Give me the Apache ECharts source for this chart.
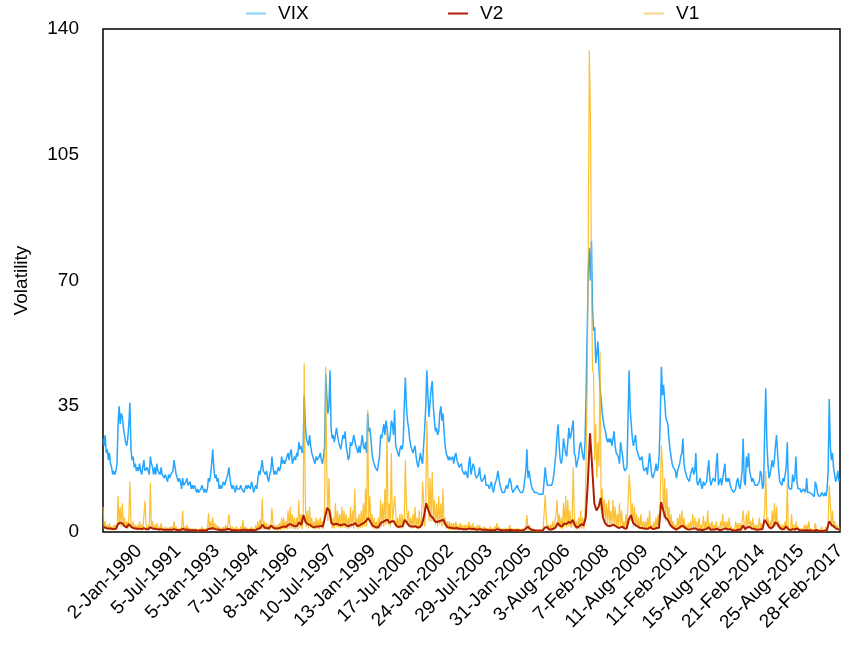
<!DOCTYPE html>
<html>
<head>
<meta charset="utf-8">
<script src="https://cdn.jsdelivr.net/npm/echarts@6/dist/echarts.min.js"></script>
<style>
  html, body { margin: 0; padding: 0; background: #fff; }
  #chart { width: 850px; height: 645px; }
</style>
</head>
<body>
<div id="chart"></div>
<script>
// Half-monthly readings from January 1990 (VIX index and V1), monthly readings for V2.
const firstYear = 1990;

const tickLabels = [
  '2-Jan-1990', '5-Jul-1991', '5-Jan-1993', '7-Jul-1994', '8-Jan-1996', '10-Jul-1997',
  '13-Jan-1999', '17-Jul-2000', '24-Jan-2002', '29-Jul-2003', '31-Jan-2005', '3-Aug-2006',
  '7-Feb-2008', '11-Aug-2009', '11-Feb-2011', '15-Aug-2012', '21-Feb-2014', '25-Aug-2015',
  '28-Feb-2017'
];

// VIX, two readings per month, one row per year
const vixByYear = [
  [26,24,27,22,23,20,22,19,18,16,17,16,17,19,30,35,30,33,32,29,27,25,24,26],
  [30,36,23,20,21,18,19,17,18,17,19,17,16,18,20,17,17,18,18,16,21,19,18,16],
  [18,16,19,17,17,16,18,16,16,15,16,15,14,16,15,16,16,17,20,18,16,15,14,15],
  [14,12,15,13,13,14,15,13,13,14,12,13,12,13,12,11,12,11,11,12,13,12,11,12],
  [11,12,15,14,16,19,23,18,15,16,14,15,12,13,12,13,14,13,14,15,16,18,15,13],
  [12,13,12,11,13,12,12,12,13,12,12,11,12,13,12,13,13,12,14,13,11,12,13,12],
  [15,17,16,18,20,17,17,16,17,15,14,16,17,21,18,16,17,16,17,18,17,18,21,19],
  [20,19,20,21,22,20,22,23,19,20,21,20,22,21,25,23,24,22,23,38,30,26,26,24],
  [27,24,22,21,20,19,21,20,20,21,22,20,19,21,24,44,38,33,35,45,29,26,27,25],
  [27,29,27,25,24,23,25,27,26,28,24,22,20,21,25,24,25,27,27,24,23,22,24,22],
  [22,27,24,23,25,22,33,28,29,26,22,20,19,18,18,17,19,21,27,26,28,30,27,31],
  [29,26,25,27,31,30,27,34,24,23,22,21,23,24,23,25,35,43,35,31,29,26,24,23],
  [22,23,24,21,19,18,20,22,20,19,24,29,35,45,38,32,36,40,42,35,31,28,29,27],
  [28,33,35,31,33,28,24,22,21,20,21,20,20,21,19,21,22,20,19,18,18,19,17,17],
  [16,17,16,15,19,21,16,16,19,18,16,15,15,16,18,15,14,14,15,16,13,13,13,12],
  [13,14,12,11,13,14,15,17,15,13,12,11,11,11,12,13,12,12,15,14,12,11,11,12],
  [12,13,12,12,11,11,11,12,12,17,23,15,17,15,13,12,12,11,11,11,10.5,10.5,11,10.5],
  [11,10.5,10.5,18,15,13,13,13,13,13,14,16,16,22,27,30,24,20,19,21,26,24,22,21],
  [25,29,26,27,27,31,22,21,18,18,21,24,25,23,21,20,25,38,55,72,79,70,81,62],
  [56,57,47,50,53,45,40,37,33,31,29,28,26,25,26,25,26,24,26,28,24,22,22,21],
  [19,25,25,21,18,17,17,18,32,45,34,30,26,24,24,27,23,22,21,20,20,21,18,17],
  [17,18,16,19,22,19,16,15,16,17,19,17,18,22,33,46,38,41,37,32,32,30,26,23],
  [21,19,18,18,17,15,17,18,19,21,22,26,19,17,16,15,15,14,16,17,18,16,17,22],
  [14,13,13,15,13,12,14,13,13,14,17,20,15,13,14,15,15,14,19,22,13,12.5,15,13],
  [13,17,19,14,15,14,15,13,12,11.5,11,11,12,14,15,13,12,14,17,26,14,13,21,18],
  [22,17,17,14,15,14,13,13,13,12.5,14,17,16,12,13,28,40,25,19,15,16,16,20,18],
  [20,24,27,22,17,14,14,13,15,14,16,18,25,13,12,12,12,16,14,15,21,14,12,12],
  [12,11,11,12,12,11,15,11,10.5,11,10.5,10.5,10,9.8,14,13,11,10,10,10,11,11,10,11],
  [10,12,17,37,24,20,22,18,16,14,15,17,14,15]
];

// V1, two readings per month, one row per year
const v1ByYear = [
  [7,1,3,0.8,2,0.6,2.5,0.7,1.5,0.5,2,0.5,2,0.6,10,2,7,1.5,8,1.5,4,1,3,0.8],
  [4,14,2,1,3,0.8,2,0.6,2,0.5,3,0.6,2,0.5,1,8.7,2,0.5,2,0.6,13.7,1,3,0.6],
  [2,0.5,2.5,0.5,1.5,0.4,2.5,0.5,1.2,0.4,1.5,0.4,1.2,0.3,1.5,0.4,1.5,0.4,3,0.6,1.5,0.4,1,0.3],
  [1.2,0.3,5.9,0.5,1.5,0.4,2,0.4,1.2,0.3,1,0.3,1,0.3,1,0.3,0.8,0.3,1,0.3,1.5,0.3,1,0.3],
  [1,0.3,5.2,0.6,3,0.6,4,0.7,2.5,0.5,2,0.5,1.5,0.4,1.2,0.4,1.5,0.4,2,0.4,2,4.9,2,0.4],
  [1.5,0.4,1.2,0.3,1.5,0.3,1,0.3,1.5,0.3,3.4,0.3,1.5,0.4,1.2,0.3,1,0.3,1.5,0.4,1,0.3,2,0.4],
  [3,0.5,3.5,0.6,9.4,0.8,3,0.6,2.5,0.5,2,0.5,2,6.6,2.5,0.5,2,0.5,2,0.5,2.5,0.5,4,0.7],
  [4,0.8,3,0.7,6,0.9,7,1,5,0.8,4,0.7,4,0.7,8.9,1.2,5,0.8,3,47,9,1.5,6,1],
  [7,1.5,4,1,3,0.8,4,0.8,3.5,0.8,4,0.9,3,0.8,7,46,17.8,3,15,6,5,1,4,1],
  [8,1.5,6,1.2,5,1,7,1.2,6,1.1,5,1,4,0.9,7,1.2,6,1,12,1.5,4,0.9,5,1],
  [6,1.2,8,1.5,12,1.5,34,3,10,2,5,1,4,0.8,3,0.7,4,0.8,9,1.5,8,1.5,12,2],
  [28,2,8,1.5,22,2.5,6,10,6,1.2,4,1,5,1,5,1,3,20,8,2,6,1.2,4,1],
  [5,1,7,1.2,4,1,6,1,3,14,9,1.5,8,31,16,3,15,3,16.7,3,9,2,8,1.5],
  [10,2,8,1.5,12,2,4,1,3,0.7,3,0.6,2.5,0.6,2.5,0.5,2.9,0.6,2,0.5,2.5,0.5,2,0.4],
  [2,0.4,2,0.4,2.9,0.5,2,0.4,2.5,0.5,1.5,0.4,2,0.4,2,0.4,1.2,0.3,1.5,0.4,1.2,0.3,1,0.3],
  [1.5,0.3,1,0.3,1.5,0.4,2.5,0.5,1.5,0.4,1,0.3,1,0.3,1.2,0.3,1,0.3,2,0.4,1,0.3,1,0.3],
  [1,0.3,1,0.3,0.8,0.3,1,0.3,1,2,4.7,0.6,2,0.5,1,0.3,1,0.3,0.8,0.3,0.8,0.3,0.8,0.3],
  [0.8,0.3,0.8,10.3,4,0.8,2,0.5,2,0.5,3,0.6,1,5,8.9,1.5,5,1,4,0.8,8,1.5,10,1.2],
  [9,1.5,6,1.2,2,18,5,1,3,0.7,4,0.8,6,1,4,0.8,4,20,40,78,134,117,70,45],
  [44,20,30,15,25,18,50,6,12,4,9,3,8,2,9,2,6,2,9,2,7,1.5,5,1.2],
  [8,1.5,6,1.2,3,0.8,5,1,8,16,12,3,8,1.5,7,1.5,5,1,4,0.8,5,1,3,0.7],
  [3,0.7,4,0.8,6,1,2,0.6,3,0.7,4,0.8,5,1,10,24,18,4,15,3,12,3,7,1.5],
  [5,1,3,0.7,2,0.5,4,0.8,5,1,6,1.2,4,0.8,2,0.5,2.5,0.5,3,0.6,5,1,4,0.8],
  [3,0.6,4,0.7,2,0.5,4.5,0.7,3,0.6,6,1,2.5,0.5,3,0.6,2,0.5,3,0.6,1.5,0.4,3,0.6],
  [5,0.8,3,0.6,3,0.6,4,0.7,1.5,0.4,1,0.3,3,0.6,2.5,0.5,2.5,0.5,3,6,1.5,0.4,5,1],
  [6,1.2,3,0.7,4,0.8,2,0.5,2,0.5,4,0.8,2.5,0.6,3,6,17,2,4,1,3,0.7,6,1.2],
  [8,1.5,7,1.5,3,0.7,2,0.5,2,0.5,3,0.7,13.7,0.5,1,0.3,5,0.6,2,0.5,3,0.7,1.5,0.4],
  [1,0.3,1,0.3,2,0.4,2,0.4,3,0.3,1,0.3,0.8,0.2,2.5,0.5,1,0.3,0.8,0.2,1.5,0.3,0.8,0.2],
  [1.5,0.4,3,13,8,1.5,6,1.2,3,0.7,2,0.5,1.5,0.4]
];

// V2, one reading per month, one row per year
const v2ByYear = [
  [1.5,1.2,1,1,0.9,0.8,0.9,2.2,2.6,2.4,1.6,1.3],
  [2.2,1.5,1.1,1,0.9,0.9,0.8,1.1,0.8,0.8,1.3,1],
  [0.9,0.8,0.7,0.8,0.6,0.6,0.6,0.6,0.6,0.8,0.6,0.5],
  [0.5,0.9,0.6,0.7,0.5,0.5,0.5,0.5,0.4,0.4,0.5,0.4],
  [0.4,0.9,0.9,1.1,0.8,0.7,0.6,0.5,0.6,0.6,0.9,0.7],
  [0.5,0.5,0.5,0.4,0.5,0.6,0.6,0.5,0.5,0.6,0.4,0.6],
  [0.9,1.1,2,1.2,1.1,1,1.8,1.2,1,1,1.1,1.4],
  [1.5,1.4,2,2.2,1.8,1.6,1.7,2.7,2,4.7,2.8,2.2],
  [2,1.5,1.3,1.5,1.5,1.7,1.5,4,6.7,6,2.5,2],
  [2.3,2.2,1.8,2,2.2,1.8,1.6,2,2,2.5,1.7,1.8],
  [2.2,2.5,3,3.9,3,1.8,1.5,1.2,1.5,2.6,2.8,3.2],
  [3.4,2.5,3,3,1.8,1.4,1.5,1.6,3.4,2.6,1.8,1.5],
  [1.5,1.6,1.2,1.4,2,4.5,8,6,4.5,4,3,2.8],
  [3,3.2,3.4,2,1.3,1.2,1.1,1,1.1,0.9,0.9,0.8],
  [0.8,0.8,1,0.8,0.9,0.7,0.7,0.8,0.6,0.6,0.6,0.5],
  [0.5,0.5,0.5,0.8,0.6,0.5,0.4,0.5,0.5,0.6,0.5,0.4],
  [0.5,0.5,0.4,0.5,0.8,1.5,1,0.6,0.5,0.4,0.4,0.4],
  [0.4,1.2,1.4,0.7,0.7,0.9,1.2,2.5,1.8,1.5,2.4,2.2],
  [2.8,2.5,3.4,1.8,1.2,1.6,2.2,1.8,4,14,27.5,18],
  [8,6,7,9.5,4,2.5,1.8,1.6,1.8,2,1.6,1.2],
  [1.2,1.5,1,1,3.5,4.7,2.5,2,1.6,1.2,1.1,1],
  [0.9,0.9,1.4,0.8,0.9,1.1,1.2,8.3,6,4,3.5,2.2],
  [1.5,1,0.7,1,1.5,1.8,1.2,0.8,0.7,0.8,1,1],
  [0.6,0.7,0.5,0.7,0.8,1.3,0.6,0.7,0.7,0.9,0.5,0.6],
  [0.8,1,0.7,0.8,0.5,0.4,0.5,0.7,0.6,1.8,0.8,1.3],
  [1.4,1,0.9,0.7,0.6,0.8,0.8,3.4,2.5,1.4,1,1.5],
  [2.7,2.2,1.2,0.8,0.8,1.6,0.8,0.5,0.8,0.7,1,0.6],
  [0.4,0.4,0.5,0.5,0.4,0.4,0.3,0.6,0.4,0.3,0.3,0.4],
  [0.6,3,2,1.6,1,0.8,0.7]
];

const vix = vixByYear.flat();
const v1 = v1ByYear.flat();
const v2 = v2ByYear.flat();

const pad2 = n => String(n).padStart(2, '0');
// Category names: the 1st and 16th of each month for the half-monthly series, months for V2
const halfMonths = vix.map((_, i) => {
  const y = firstYear + Math.floor(i / 24);
  const m = Math.floor((i % 24) / 2) + 1;
  return `${y}-${pad2(m)}-${i % 2 ? '16' : '01'}`;
});
const months = v2.map((_, i) => `${firstYear + Math.floor(i / 12)}-${pad2(i % 12 + 1)}`);
const labelSlots = tickLabels.map((_, i) => i);

const FONT = "'Liberation Sans', Arial, Helvetica, sans-serif";
const colors = {
  vix: 'rgba(0,150,255,0.85)',
  v1: 'rgba(250,176,0,0.8)',
  v2: '#b01e00'
};

const legendCommon = {
  top: -1,
  icon: 'rect',
  itemWidth: 20,
  itemHeight: 2,
  selectedMode: false,
  textStyle: { fontSize: 19, color: '#000', fontFamily: FONT, padding: [0, 0, 0, 7] }
};

const chart = echarts.init(document.getElementById('chart'), null, { renderer: 'canvas' });
chart.setOption({
  animation: false,
  backgroundColor: '#fff',
  textStyle: { fontFamily: FONT },
  legend: [
    Object.assign({ left: 241, data: [{ name: 'VIX', itemStyle: { color: '#8ccff8' } }] }, legendCommon),
    Object.assign({ left: 443, data: [{ name: 'V2', itemStyle: { color: '#b3200a' } }] }, legendCommon),
    Object.assign({ left: 639, data: [{ name: 'V1', itemStyle: { color: '#f7d488' } }] }, legendCommon)
  ],
  grid: {
    left: 103, right: 10, top: 29, bottom: 113,
    show: true, borderColor: '#000', borderWidth: 1.5, backgroundColor: 'transparent'
  },
  xAxis: [
    {
      // date labels along the bottom
      type: 'value', position: 'bottom',
      min: -0.924, max: 18,
      axisLine: { show: false }, axisTick: { show: false }, splitLine: { show: false },
      axisLabel: {
        customValues: labelSlots,
        formatter: v => tickLabels[Math.round(v)] || '',
        rotate: 45, margin: 16, fontSize: 19, color: '#000', fontFamily: FONT
      }
    },
    { type: 'category', position: 'top', data: halfMonths, boundaryGap: false, show: false },
    { type: 'category', position: 'top', data: months, boundaryGap: false, show: false }
  ],
  yAxis: {
    type: 'value', min: 0, max: 140, interval: 35,
    name: 'Volatility', nameLocation: 'middle', nameGap: 72, nameRotate: 90,
    nameTextStyle: { fontSize: 19, color: '#000', fontFamily: FONT },
    axisLine: { show: false }, axisTick: { show: false }, splitLine: { show: false },
    axisLabel: { fontSize: 19, color: '#000', margin: 24, fontFamily: FONT }
  },
  series: [
    {
      name: 'VIX', type: 'line', xAxisIndex: 1, data: vix,
      symbol: 'none', lineStyle: { width: 1.5, color: colors.vix }, itemStyle: { color: colors.vix },
      emphasis: { disabled: true }
    },
    {
      name: 'V1', type: 'line', xAxisIndex: 1, data: v1,
      symbol: 'none', lineStyle: { width: 1.2, color: colors.v1 }, itemStyle: { color: colors.v1 },
      emphasis: { disabled: true }
    },
    {
      name: 'V2', type: 'line', xAxisIndex: 2, data: v2,
      symbol: 'none', lineStyle: { width: 2, color: colors.v2 }, itemStyle: { color: colors.v2 },
      emphasis: { disabled: true }
    }
  ]
});
</script>
</body>
</html>
